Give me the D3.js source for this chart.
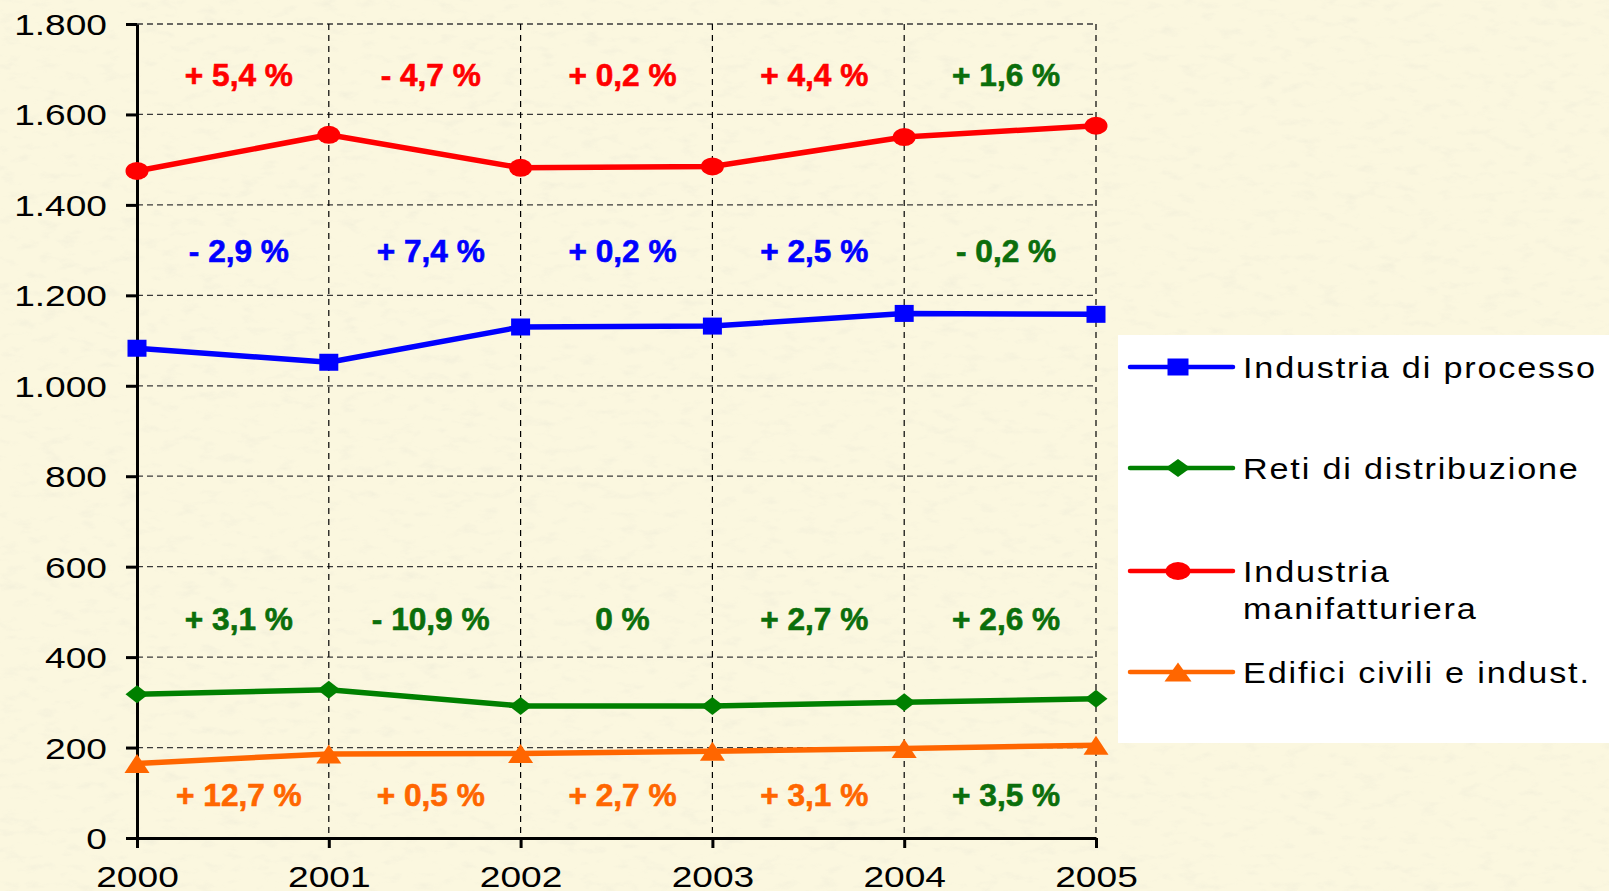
<!DOCTYPE html>
<html>
<head>
<meta charset="utf-8">
<script src="https://cdn.jsdelivr.net/npm/d3@7"></script>
<style>
  html, body { margin: 0; padding: 0; background: #fbf7df; overflow: hidden; }
  svg { display: block; }
</style>
</head>
<body>
<script>
const width = 1609
const height = 891

// data
const years = [2000, 2001, 2002, 2003, 2004, 2005]
const yTicks = [0, 200, 400, 600, 800, 1000, 1200, 1400, 1600, 1800]
const yTickLabels = ["0", "200", "400", "600", "800", "1.000", "1.200", "1.400", "1.600", "1.800"]

const processo = [1083, 1052, 1130, 1132, 1160, 1158]
const reti = [318, 328, 292, 292, 300, 308]
const manifatturiera = [1475, 1555, 1482, 1485, 1550, 1575]
const edifici = [165, 186, 187, 192, 198, 205]

const pctManifatturiera = ["+ 5,4 %", "- 4,7 %", "+ 0,2 %", "+ 4,4 %", "+ 1,6 %"]
const pctProcesso = ["- 2,9 %", "+ 7,4 %", "+ 0,2 %", "+ 2,5 %", "- 0,2 %"]
const pctReti = ["+ 3,1 %", "- 10,9 %", "0 %", "+ 2,7 %", "+ 2,6 %"]
const pctEdifici = ["+ 12,7 %", "+ 0,5 %", "+ 2,7 %", "+ 3,1 %", "+ 3,5 %"]

const seriesNames = ["Industria di processo", "Reti di distribuzione", "Industria manifatturiera", "Edifici civili e indust."]

// styles
const blue = "#0000ff"
const green = "#008000"
const darkGreen = "#0b6e0b"
const red = "#ff0000"
const orange = "#ff6600"
const font = "'Liberation Sans', Arial, sans-serif"

const series = [
    {name: seriesNames[0], values: processo, color: blue, shape: "square"},
    {name: seriesNames[1], values: reti, color: green, shape: "diamond"},
    {name: seriesNames[2], values: manifatturiera, color: red, shape: "circle"},
    {name: seriesNames[3], values: edifici, color: orange, shape: "triangle"}
]

// label rows: text, text color, baseline
const labelRows = [
    {texts: pctManifatturiera, color: red, base: 86},
    {texts: pctProcesso, color: blue, base: 262},
    {texts: pctReti, color: darkGreen, base: 630},
    {texts: pctEdifici, color: orange, base: 806}
]

const x = d3.scalePoint().domain(years).range([137, 1096])
const y = d3.scaleLinear().domain([0, 1800]).range([838, 24])

let svg = d3.select("body")
    .append("svg")
    .attr("width", width)
    .attr("height", height)

let defs = svg.append("defs")
let paper = defs.append("filter")
    .attr("id", "paper")
    .attr("x", 0).attr("y", 0).attr("width", "100%").attr("height", "100%")
paper.append("feTurbulence")
    .attr("type", "fractalNoise")
    .attr("baseFrequency", "0.05 0.11")
    .attr("numOctaves", 4)
    .attr("seed", 7)
paper.append("feColorMatrix")
    .attr("type", "matrix")
    .attr("values", "0 0 0 0 0.84  0 0 0 0 0.82  0 0 0 0 0.68  3 0 0 0 -1.6")

svg.append("rect")
    .attr("width", width)
    .attr("height", height)
    .attr("fill", "#fbf7df")

svg.append("rect")
    .attr("width", width)
    .attr("height", height)
    .attr("filter", "url(#paper)")
    .attr("opacity", 0.4)

// grid
svg.append("g")
    .selectAll("line")
    .data(yTicks.filter(d => d > 0))
    .enter()
    .append("line")
    .attr("x1", x(2000))
    .attr("x2", x(2005))
    .attr("y1", d => y(d))
    .attr("y2", d => y(d))
    .attr("stroke", "#3a3a3a")
    .attr("stroke-width", 1.3)
    .attr("stroke-dasharray", "6,4")

svg.append("g")
    .selectAll("line")
    .data(years.slice(1))
    .enter()
    .append("line")
    .attr("x1", d => x(d))
    .attr("x2", d => x(d))
    .attr("y1", y(1800))
    .attr("y2", y(0))
    .attr("stroke", "#000")
    .attr("stroke-width", 1.2)
    .attr("stroke-dasharray", "6,5")

// axes
const tickStretch = 1.28
let yAxis = svg.append("g")
    .attr("transform", `translate(${x(2000)},0)`)
    .call(d3.axisLeft(y).tickValues(yTicks).tickFormat((d, i) => yTickLabels[i]).tickSize(11).tickSizeOuter(0))
yAxis.select(".domain").attr("stroke-width", 3)
yAxis.selectAll(".tick line").attr("stroke-width", 3)
yAxis.selectAll(".tick text")
    .attr("x", -30 / tickStretch)
    .attr("dy", "0.36em")
    .attr("transform", `scale(${tickStretch},1)`)
    .style("font-family", font)
    .style("font-size", "29px")
    .attr("fill", "#000")

let xAxis = svg.append("g")
    .attr("transform", `translate(0,${y(0)})`)
    .call(d3.axisBottom(x).tickSize(10).tickSizeOuter(0))
xAxis.select(".domain").attr("stroke-width", 3)
xAxis.selectAll(".tick line").attr("stroke-width", 3)
xAxis.selectAll(".tick text")
    .attr("y", 49)
    .attr("dy", 0)
    .attr("transform", `scale(${tickStretch},1)`)
    .style("font-family", font)
    .style("font-size", "29px")
    .attr("fill", "#000")

// markers
const markerPath = (shape, w, h) => {
    switch(shape){
        case "square":
            return `M${-w/2},${-h/2}H${w/2}V${h/2}H${-w/2}Z`
        case "diamond":
            return `M0,${-h/2}L${w/2},0L0,${h/2}L${-w/2},0Z`
        case "triangle":
            return `M0,${-h/2}L${w/2},${h/2}L${-w/2},${h/2}Z`
        case "circle":
            return `M${-w/2},0A${w/2},${h/2} 0 1,0 ${w/2},0A${w/2},${h/2} 0 1,0 ${-w/2},0Z`
    }
}
const markerSize = {square: [19, 17], diamond: [23, 18], circle: [23, 18], triangle: [25, 19]}

const line = d3.line()
    .x((d, i) => x(years[i]))
    .y(d => y(d))

let seriesG = svg.selectAll(".series")
    .data(series)
    .enter()
    .append("g")
    .attr("class", "series")

seriesG.append("path")
    .attr("d", d => line(d.values))
    .attr("fill", "none")
    .attr("stroke", d => d.color)
    .attr("stroke-width", 5.5)
    .attr("stroke-linejoin", "round")

seriesG.each(function(s){
    d3.select(this).selectAll(".marker")
        .data(s.values)
        .enter()
        .append("path")
        .attr("transform", (d, i) => `translate(${x(years[i])},${y(d)})`)
        .attr("d", markerPath(s.shape, markerSize[s.shape][0], markerSize[s.shape][1]))
        .attr("fill", s.color)
})

// percentage labels between years
labelRows.forEach(row => {
    svg.append("g")
        .selectAll("text")
        .data(row.texts)
        .enter()
        .append("text")
        .attr("transform", (d, i) => `translate(${(x(years[i]) + x(years[i + 1])) / 2 + 6},${row.base}) scale(1.02,1)`)
        .attr("text-anchor", "middle")
        .style("font-family", font)
        .style("font-size", "31px")
        .style("font-weight", "bold")
        .attr("fill", (d, i) => (i == row.texts.length - 1) ? darkGreen : row.color)
        .attr("stroke", (d, i) => (i == row.texts.length - 1) ? darkGreen : row.color)
        .attr("stroke-width", 0.6)
        .text(d => d)
})

// legend
let legend = svg.append("g")
legend.append("rect")
    .attr("x", 1118)
    .attr("y", 335)
    .attr("width", 520)
    .attr("height", 408)
    .attr("fill", "#fff")

const legendY = [367, 468, 571, 672]
series.forEach((s, i) => {
    let g = legend.append("g").attr("transform", `translate(0,${legendY[i]})`)
    g.append("line")
        .attr("x1", 1130).attr("x2", 1233)
        .attr("y1", 0).attr("y2", 0)
        .attr("stroke", s.color)
        .attr("stroke-width", 4.5)
        .attr("stroke-linecap", "round")
    g.append("path")
        .attr("transform", "translate(1178,0)")
        .attr("d", markerPath(s.shape, markerSize[s.shape][0] + 2, markerSize[s.shape][1]))
        .attr("fill", s.color)
    let words = s.name == "Industria manifatturiera" ? ["Industria", "manifatturiera"] : [s.name]
    words.forEach((w, j) => {
        g.append("text")
            .attr("transform", `translate(1243,${11 + j * 37}) scale(1.14,1)`)
            .style("font-family", font)
            .style("font-size", "30px")
            .style("letter-spacing", "1.6px")
            .attr("fill", "#000")
            .text(w)
    })
})
</script>
</body>
</html>
